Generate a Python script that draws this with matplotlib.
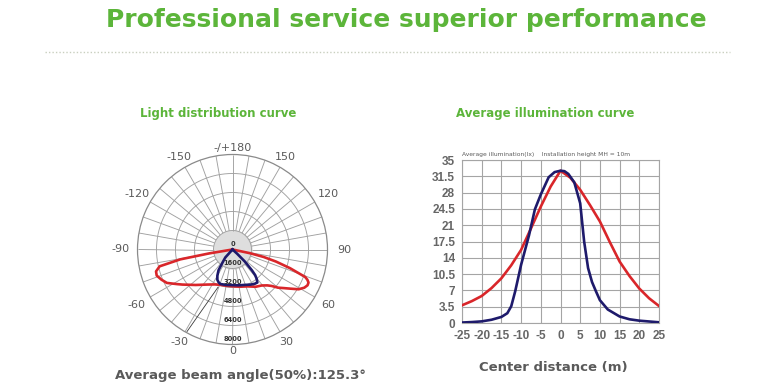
import numpy as np
import matplotlib.pyplot as plt

GREEN = '#5cb53a'
GRAY = '#5a5a5a'
RED = '#d9262a'
NAVY = '#1e1a6b'

# light distribution curve (angle in deg, 0 = straight down, + = right side), intensity in cd
red_ang = [-86, -80.5, -79.3, -77, -74, -71, -67, -63, -58, -55, -46, -36, -27, -19, -10, 0,
           11.5, 22, 32, 39, 44, 47, 50, 53, 56, 59, 62, 64.5, 66.5, 68, 69.3, 72, 74.5, 76.5, 78, 82]
red_cd = [0, 2000, 4480, 6300, 6700, 6750, 6500, 6200, 5500, 5150, 4300, 3650, 3300, 3150, 3100, 3100,
          3200, 3350, 3700, 3900, 4200, 4500, 5000, 5400, 5900, 6500, 6850, 7000, 6980, 6800, 6540, 5100, 3800, 2700, 1500, 0]
blue_ang = [-50, -42, -38, -34, -30, -26.6, -23, -19.5, -10, 0, 10, 20, 27, 33, 37, 39.5, 41.5, 43, 45.7, 47.7, 55]
blue_cd = [0, 900, 1300, 2100, 2550, 2850, 3000, 3080, 3030, 3000, 3060, 3170, 3320, 3440, 3480, 3200, 2880, 2400, 1450, 500, 0]

ring_vals = [0, 1600, 3200, 4800, 6400, 8000]
ang_labels = [0, 30, 60, 90, 120, 150, 180, -150, -120, -90, -60, -30]

# average illumination curve
x_red = [-25, -22.5, -20, -17.5, -15, -12.5, -10, -7.5, -5, -2.5, 0, 2.5, 5, 7.5, 10, 12.5, 15, 17.5, 20, 22.5, 25]
y_red = [3.8, 4.7, 5.8, 7.5, 9.6, 12.4, 15.7, 20.3, 25.0, 29.3, 32.7, 31.2, 28.6, 25.3, 21.8, 17.4, 13.2, 10.1, 7.4, 5.3, 3.65]
x_blue = [-25, -22.5, -20, -17.5, -15, -13.5, -12.5, -11.5, -10, -8, -6.5, -5, -3, -1.5, 0, 1, 2, 3.5, 5,
          6, 7, 8, 9, 10, 12, 15, 17.5, 20, 25]
y_blue = [0.1, 0.2, 0.35, 0.7, 1.3, 2.1, 3.6, 6.8, 12.5, 18.8, 24.4, 27.6, 31.3, 32.4, 32.7, 32.6, 32.0, 30.2, 25.7,
          17.5, 11.8, 8.8, 6.8, 4.9, 2.9, 1.4, 0.8, 0.5, 0.15]
xticks = [-25, -20, -15, -10, -5, 0, 5, 10, 15, 20, 25]
yticks = [0, 3.5, 7, 10.5, 14, 17.5, 21, 24.5, 28, 31.5, 35]

fig = plt.figure(figsize=(7.8, 3.88), dpi=100)
fig.patch.set_facecolor('white')

fig.text(406 / 780, 0.948, 'Professional service superior performance', ha='center', va='center',
         fontsize=18, fontweight='bold', color=GREEN)
fig.add_artist(plt.Line2D([45 / 780, 730 / 780], [1 - 52 / 388] * 2, transform=fig.transFigure,
                          color='#c9cfbf', lw=1, linestyle=(0, (1, 1.5))))
fig.text(218 / 780, 1 - 114 / 388, 'Light distribution curve', ha='center', va='center',
         fontsize=8.5, fontweight='bold', color=GREEN)
fig.text(545 / 780, 1 - 114 / 388, 'Average illumination curve', ha='center', va='center',
         fontsize=8.5, fontweight='bold', color=GREEN)

# ---- polar chart
R = 8000
ax = fig.add_axes([137.5 / 780, 1 - 344.5 / 388, 190 / 780, 190 / 388], projection='polar')
ax.set_theta_zero_location('S')
ax.set_theta_direction(1)
ax.set_ylim(0, R)
ax.grid(False)
ax.set_xticks([])
ax.set_yticks([])
ax.spines['polar'].set_color('#8a8a8a')
ax.spines['polar'].set_linewidth(0.9)

th = np.linspace(0, 2 * np.pi, 361)
ax.fill_between(th, 0, ring_vals[1], color='#dedede', zorder=1)
for rv in ring_vals[1:-1]:
    ax.plot(th, [rv] * len(th), color='#a0a0a0', lw=0.65, zorder=2)
ax.vlines(np.radians(np.arange(0, 360, 10)), ring_vals[1], R, colors='#a0a0a0', lw=0.65, zorder=2)
# stray dark stroke in the original
ax.plot(np.radians([-21, -29]), [3400, 7900], color='#3a3a3a', lw=0.6, zorder=2)

ax.plot(np.radians(red_ang), red_cd, color=RED, lw=1.9, zorder=4, solid_joinstyle='round')
ax.plot(np.radians(blue_ang), blue_cd, color=NAVY, lw=1.9, zorder=5, solid_joinstyle='round')

for v in ring_vals:
    pos = v - 470
    t = 0 if pos >= 0 else np.pi
    ax.text(t, abs(pos), str(v), ha='center', va='center', fontsize=4.8, fontweight='bold',
            color='#333333', zorder=6)

px = R / 95.0
for a in ang_labels:
    t = np.radians(a)
    rr = (101 + 11 * abs(np.sin(t))) * px
    lab = '-/+180' if a == 180 else str(a)
    ax.text(t, rr, lab, ha='center', va='center', fontsize=8, color=GRAY, clip_on=False)

fig.text(240 / 780, 1 - 376 / 388, 'Average beam angle(50%):125.3°', ha='center', va='center',
         fontsize=9.5, fontweight='bold', color=GRAY)

# ---- illumination chart
ax2 = fig.add_axes([462 / 780, 1 - 323 / 388, 197 / 780, 163 / 388])
ax2.plot(x_red, y_red, color=RED, lw=1.9, zorder=3)
ax2.plot(x_blue, y_blue, color=NAVY, lw=1.9, zorder=4)
ax2.set_xlim(-25, 25)
ax2.set_ylim(0, 35)
ax2.set_xticks(xticks)
ax2.set_yticks(yticks)
ax2.set_xticklabels([str(v) for v in xticks])
ax2.set_yticklabels([('%g' % v) for v in yticks])
ax2.grid(True, color='#a5a5a5', lw=0.8)
ax2.set_axisbelow(True)
for s in ax2.spines.values():
    s.set_color('#a5a5a5')
    s.set_linewidth(0.8)
ax2.tick_params(length=0, pad=5, labelsize=8.5, labelcolor='#666666')
for lbl in ax2.get_xticklabels() + ax2.get_yticklabels():
    lbl.set_fontweight('bold')
    lbl.set_family(['Liberation Sans', 'DejaVu Sans'])
ax2.text(0, 1.035, 'Average illumination(lx)    Installation height MH = 10m', transform=ax2.transAxes,
         ha='left', va='center', fontsize=4.3, color=GRAY)
fig.text(553 / 780, 1 - 368 / 388, 'Center distance (m)', ha='center', va='center',
         fontsize=9.5, fontweight='bold', color=GRAY)

fig.savefig('out.png', dpi=100, facecolor='white')
